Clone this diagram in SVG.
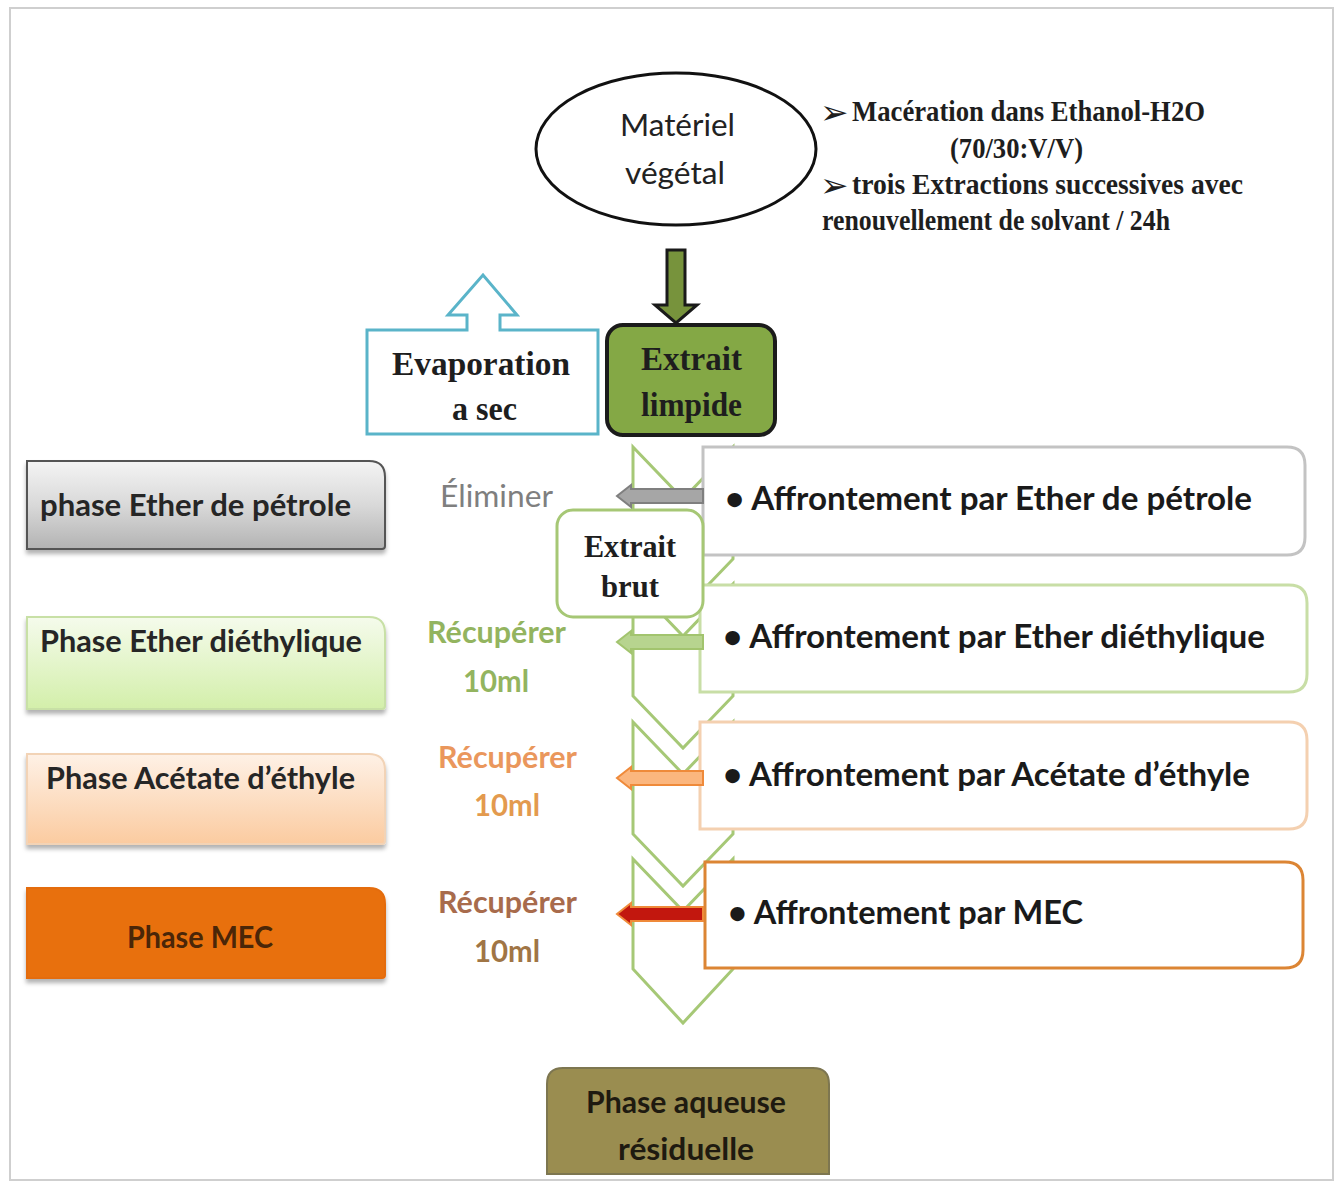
<svg xmlns="http://www.w3.org/2000/svg" width="1339" height="1184" viewBox="0 0 1339 1184">
<defs>
<linearGradient id="gGray" x1="0" y1="0" x2="0" y2="1"><stop offset="0" stop-color="#f4f4f4"/><stop offset="0.5" stop-color="#d9d9d9"/><stop offset="1" stop-color="#b3b3b3"/></linearGradient>
<linearGradient id="gGreen" x1="0" y1="0" x2="0" y2="1"><stop offset="0" stop-color="#f5fbec"/><stop offset="1" stop-color="#d3efaa"/></linearGradient>
<linearGradient id="gPeach" x1="0" y1="0" x2="0" y2="1"><stop offset="0" stop-color="#fef1e6"/><stop offset="1" stop-color="#fbcba0"/></linearGradient>
<filter id="sh" x="-5%" y="-5%" width="110%" height="125%"><feDropShadow dx="0" dy="4" stdDeviation="2" flood-color="#000" flood-opacity="0.3"/></filter>
</defs>
<style>
.cal{font-family:Lato,"Open Sans","Liberation Sans",sans-serif;font-weight:bold}
.calr{font-family:Lato,"Open Sans","Liberation Sans",sans-serif;font-weight:normal}
.tim{font-family:"Liberation Serif","DejaVu Serif",serif;font-weight:bold}
.sym{font-family:"DejaVu Sans",sans-serif;font-weight:bold}
.chev{fill:none;stroke:#a6c876;stroke-width:3}
.rbox{fill:#ffffff;stroke-width:3}
</style>
<rect x="0" y="0" width="1339" height="1184" fill="#ffffff"/>
<rect x="10" y="8" width="1323" height="1172" fill="#ffffff" stroke="#cfcfcf" stroke-width="2"/>

<g id="chevrons">
<path class="chev" d="M633,447 L683,499 L733,447 L733,559 L683,611 L633,559 Z"/>
<path class="chev" d="M633,584 L683,636 L733,584 L733,696 L683,748 L633,696 Z"/>
<path class="chev" d="M633,722 L683,774 L733,722 L733,834 L683,886 L633,834 Z"/>
<path class="chev" d="M633,859 L683,911 L733,859 L733,969 L683,1023 L633,969 Z"/>
</g>

<g id="materiel">
<ellipse cx="676" cy="149" rx="140" ry="76" fill="#ffffff" stroke="#111111" stroke-width="3"/>
<text class="calr" x="620" y="136" font-size="31" textLength="115" lengthAdjust="spacingAndGlyphs" fill="#222">Matériel</text>
<text class="calr" x="625" y="184" font-size="31" textLength="100" lengthAdjust="spacingAndGlyphs" fill="#222">végétal</text>
</g>

<g id="notes" fill="#1e1e1e">
<text class="sym" x="820" y="124" font-size="34">➢</text>
<text class="tim" x="852" y="121" font-size="30" textLength="353" lengthAdjust="spacingAndGlyphs">Macération  dans Ethanol-H2O</text>
<text class="tim" x="950" y="158" font-size="30" textLength="133" lengthAdjust="spacingAndGlyphs">(70/30:V/V)</text>
<text class="sym" x="820" y="197" font-size="34">➢</text>
<text class="tim" x="852" y="194" font-size="30" textLength="391" lengthAdjust="spacingAndGlyphs">trois  Extractions  successives  avec</text>
<text class="tim" x="822" y="230" font-size="30" textLength="348" lengthAdjust="spacingAndGlyphs">renouvellement de solvant / 24h</text>
</g>

<g id="evaporation">
<path d="M367,330 H467 V315 H448 L483,275 L517,315 H500 V330 H598 V434 H367 Z" fill="#ffffff" stroke="#5ab4c9" stroke-width="3"/>
<text class="tim" x="392" y="375" font-size="34" textLength="178" lengthAdjust="spacingAndGlyphs" fill="#1e1e1e">Evaporation</text>
<text class="tim" x="452" y="420" font-size="34" textLength="65" lengthAdjust="spacingAndGlyphs" fill="#1e1e1e">a sec</text>
</g>

<g id="extrait-limpide">
<rect x="607" y="325" width="168" height="110" rx="16" fill="#84a845" stroke="#1b1b1b" stroke-width="4"/>
<text class="tim" x="641" y="370" font-size="34" textLength="101" lengthAdjust="spacingAndGlyphs" fill="#1e1e1e">Extrait</text>
<text class="tim" x="641" y="416" font-size="34" textLength="101" lengthAdjust="spacingAndGlyphs" fill="#1e1e1e">limpide</text>
</g>

<g id="aff-ether-petrole">
<path class="rbox" stroke="#c3c3c3" d="M703,447 H1287 Q1305,447 1305,465 V537 Q1305,555 1287,555 H703 Z"/>
<text class="cal" x="725" y="510" font-size="32" textLength="527" lengthAdjust="spacingAndGlyphs" fill="#1a1a1a">• Affrontement par Ether de pétrole</text>
</g>
<g id="aff-ether-diethylique">
<path class="rbox" stroke="#c8dea6" d="M700,585 H1289 Q1307,585 1307,603 V674 Q1307,692 1289,692 H700 Z"/>
<text class="cal" x="723" y="648" font-size="32" textLength="542" lengthAdjust="spacingAndGlyphs" fill="#1a1a1a">• Affrontement par Ether diéthylique</text>
</g>
<g id="aff-acetate">
<path class="rbox" stroke="#f4d0b0" d="M700,722 H1289 Q1307,722 1307,740 V811 Q1307,829 1289,829 H700 Z"/>
<text class="cal" x="723" y="786" font-size="32" textLength="527" lengthAdjust="spacingAndGlyphs" fill="#1a1a1a">• Affrontement par Acétate d’éthyle</text>
</g>
<g id="aff-mec">
<path class="rbox" stroke="#dc8534" d="M705,862 H1285 Q1303,862 1303,880 V950 Q1303,968 1285,968 H705 Z"/>
<text class="cal" x="728" y="924" font-size="32" textLength="355" lengthAdjust="spacingAndGlyphs" fill="#1a1a1a">• Affrontement par MEC</text>
</g>

<g id="extrait-brut">
<rect x="557" y="510" width="146" height="107" rx="16" fill="#ffffff" stroke="#a6c775" stroke-width="3"/>
<text class="tim" x="584" y="557" font-size="32" textLength="92" lengthAdjust="spacingAndGlyphs" fill="#1e1e1e">Extrait</text>
<text class="tim" x="601" y="597" font-size="32" textLength="58" lengthAdjust="spacingAndGlyphs" fill="#1e1e1e">brut</text>
</g>

<g id="connectors">
<path d="M667,250 H685 V305 H697 L676,323 L655,305 H667 Z" fill="#77933c" stroke="#1a1a1a" stroke-width="3"/>
<path d="M703,489 H631 V485 L617,496 L631,507 V503 H703 Z" fill="#a6a6a6" stroke="#7f7f7f" stroke-width="2"/>
<path d="M703,635 H631 V631 L617,642 L631,653 V649 H703 Z" fill="#b7d48f" stroke="#a2c46e" stroke-width="2"/>
<path d="M703,771 H631 V767 L617,778 L631,789 V785 H703 Z" fill="#fbb67e" stroke="#ef8a3a" stroke-width="2"/>
<path d="M703,907 H631 V903 L617,914 L631,925 V921 H703 Z" fill="#c2170e" stroke="#ef8a3a" stroke-width="2"/>
</g>

<g id="labels">
<text class="calr" x="440" y="507" font-size="30" textLength="113" lengthAdjust="spacingAndGlyphs" fill="#7f7f7f">Éliminer</text>
<text class="cal" x="427" y="643" font-size="30" textLength="139" lengthAdjust="spacingAndGlyphs" fill="#93b45f">Récupérer</text>
<text class="cal" x="463" y="692" font-size="30" textLength="66" lengthAdjust="spacingAndGlyphs" fill="#93b45f">10ml</text>
<text class="cal" x="438" y="768" font-size="30" textLength="139" lengthAdjust="spacingAndGlyphs" fill="#ea975c">Récupérer</text>
<text class="cal" x="474" y="816" font-size="30" textLength="66" lengthAdjust="spacingAndGlyphs" fill="#e39a4e">10ml</text>
<text class="cal" x="438" y="913" font-size="30" textLength="139" lengthAdjust="spacingAndGlyphs" fill="#a86b4c">Récupérer</text>
<text class="cal" x="474" y="962" font-size="30" textLength="66" lengthAdjust="spacingAndGlyphs" fill="#a07545">10ml</text>
</g>

<g id="phase-ether-petrole">
<path d="M27,461 H369 Q385,461 385,477 V546 Q385,549 382,549 H27 Z" fill="url(#gGray)" stroke="#555555" stroke-width="2" filter="url(#sh)"/>
<text class="cal" x="40" y="516" font-size="31" textLength="311" lengthAdjust="spacingAndGlyphs" fill="#262626">phase Ether de pétrole</text>
</g>
<g id="phase-ether-diethylique">
<path d="M27,617 H369 Q385,617 385,633 V706 Q385,709 382,709 H27 Z" fill="url(#gGreen)" stroke="#c8e0a6" stroke-width="2" filter="url(#sh)"/>
<text class="cal" x="40" y="652" font-size="31" textLength="322" lengthAdjust="spacingAndGlyphs" fill="#262626">Phase Ether diéthylique</text>
</g>
<g id="phase-acetate">
<path d="M27,754 H369 Q385,754 385,770 V841 Q385,844 382,844 H27 Z" fill="url(#gPeach)" stroke="#f2d3b6" stroke-width="2" filter="url(#sh)"/>
<text class="cal" x="46" y="789" font-size="31" textLength="309" lengthAdjust="spacingAndGlyphs" fill="#262626">Phase Acétate d’éthyle</text>
</g>
<g id="phase-mec">
<path d="M27,888 H369 Q385,888 385,904 V975 Q385,978 382,978 H27 Z" fill="#e8700f" stroke="#e46c0a" stroke-width="2" filter="url(#sh)"/>
<text class="cal" x="127" y="948" font-size="31" textLength="146" lengthAdjust="spacingAndGlyphs" fill="#4a2608">Phase MEC</text>
</g>

<g id="phase-aqueuse">
<path d="M547,1174 V1084 Q547,1068 563,1068 H813 Q829,1068 829,1084 V1174 Z" fill="#9a8d50" stroke="#7d7650" stroke-width="2"/>
<text class="cal" x="586" y="1113" font-size="30" textLength="200" lengthAdjust="spacingAndGlyphs" fill="#1e1a10">Phase aqueuse</text>
<text class="cal" x="618" y="1160" font-size="30" textLength="136" lengthAdjust="spacingAndGlyphs" fill="#1e1a10">résiduelle</text>
</g>
</svg>
